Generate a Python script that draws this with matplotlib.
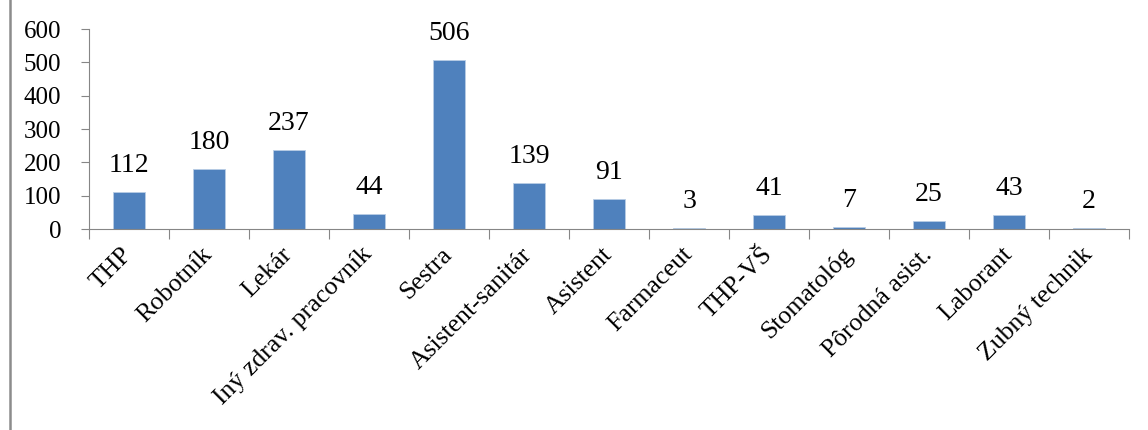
import matplotlib.pyplot as plt
import numpy as np
from matplotlib.lines import Line2D

kategorie = ["THP", "Robotník", "Lekár", "Iný zdrav. pracovník", "Sestra",
             "Asistent-sanitár", "Asistent", "Farmaceut", "THP-VŠ",
             "Stomatológ", "Pôrodná asist.", "Laborant", "Zubný technik"]
pocty = [112, 180, 237, 44, 506, 139, 91, 3, 41, 7, 25, 43, 2]
y_ticky = [0, 100, 200, 300, 400, 500, 600]

plt.rcParams['font.family'] = ['Liberation Serif', 'DejaVu Serif']

fig = plt.figure(figsize=(11.48, 4.30), dpi=100)
ax = fig.add_axes([89 / 1148, 1 - 229 / 430, 1040 / 1148, 200 / 430])

x = np.arange(len(kategorie))
ax.bar(x, pocty, width=0.4, color='#4F81BD', edgecolor='#B9CDE5', linewidth=0.6)

for xi, v in zip(x, pocty):
    ax.annotate(str(v), (xi, v), xytext=(0, 10), textcoords='offset points',
                ha='center', va='bottom', fontsize=20, annotation_clip=False)

ax.set_xlim(-0.5, len(kategorie) - 0.5)
ax.set_ylim(0, 600)
ax.set_yticks(y_ticky)
ax.tick_params(axis='y', labelsize=18, length=6, color='#868686', pad=14, direction='out')

# ticky medzi kategóriami, popisy pod stredom
ax.set_xticks(np.arange(len(kategorie) + 1) - 0.5, minor=False)
ax.set_xticklabels([])
ax.tick_params(axis='x', length=7, color='#868686', direction='out')
ax.set_xticks(x, minor=True)
ax.set_xticklabels(kategorie, minor=True, rotation=45, ha='right', va='center',
                   rotation_mode='anchor', fontsize=18.5)
ax.tick_params(axis='x', which='minor', length=0, pad=16)

for s in ['top', 'right']:
    ax.spines[s].set_visible(False)
for s in ['left', 'bottom']:
    ax.spines[s].set_color('#868686')

fig.add_artist(Line2D([9.5 / 1148, 9.5 / 1148], [0, 1], color='#8C8C8C', linewidth=1.8))

fig.savefig('out.png', dpi=100)
